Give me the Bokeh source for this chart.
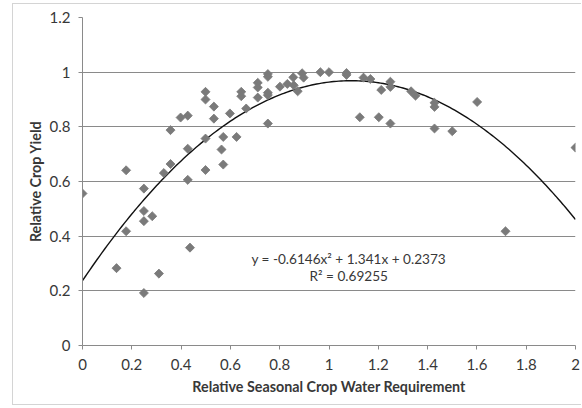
import numpy as np
from bokeh.plotting import figure
from bokeh.models import ColumnDataSource, Range1d, FixedTicker, Label
from bokeh.embed import file_html
from bokeh.resources import INLINE

# Relative seasonal crop water requirement (x) and relative crop yield (y)
water_req = [0.00, 0.138, 0.177, 0.177, 0.249, 0.249, 0.249, 0.283, 0.249, 0.310,
             0.330, 0.357, 0.357, 0.398, 0.427, 0.427, 0.427, 0.436, 0.499, 0.499,
             0.499, 0.499, 0.533, 0.533, 0.571, 0.564, 0.571, 0.598, 0.625, 0.644,
             0.644, 0.664, 0.711, 0.711, 0.711, 0.752, 0.752, 0.752, 0.752, 0.752,
             0.801, 0.831, 0.855, 0.857, 0.873, 0.891, 0.897, 0.965, 1.000, 1.071,
             1.071, 1.140, 1.168, 1.125, 1.202, 1.249, 1.212, 1.249, 1.249, 1.333,
             1.351, 1.428, 1.428, 1.428, 1.500, 1.601, 1.716, 2.000]
crop_yield = [0.556, 0.283, 0.641, 0.418, 0.574, 0.492, 0.455, 0.473, 0.192, 0.263,
              0.631, 0.664, 0.788, 0.834, 0.841, 0.720, 0.606, 0.358, 0.928, 0.900,
              0.757, 0.642, 0.874, 0.830, 0.763, 0.717, 0.662, 0.849, 0.763, 0.928,
              0.912, 0.867, 0.961, 0.944, 0.907, 0.993, 0.983, 0.925, 0.916, 0.812,
              0.947, 0.957, 0.981, 0.952, 0.930, 0.996, 0.980, 1.000, 1.000, 0.997,
              0.990, 0.980, 0.975, 0.835, 0.835, 0.812, 0.935, 0.965, 0.946, 0.930,
              0.914, 0.888, 0.873, 0.794, 0.784, 0.891, 0.418, 0.724]

# Polynomial trendline coefficients (as printed on the chart)
coef_a, coef_b, coef_c = -0.6146, 1.341, 0.2373
eq_text = "y = -0.6146x\u00b2 + 1.341x + 0.2373"
r2_text = "R\u00b2 = 0.69255"

x_ticks = [0, 0.2, 0.4, 0.6, 0.8, 1.0, 1.2, 1.4, 1.6, 1.8, 2.0]
x_tick_labels = ["0", "0.2", "0.4", "0.6", "0.8", "1", "1.2", "1.4", "1.6", "1.8", "2"]
y_ticks = [0, 0.2, 0.4, 0.6, 0.8, 1.0, 1.2]
y_tick_labels = ["0", "0.2", "0.4", "0.6", "0.8", "1", "1.2"]

FONT = "Lato"
TXT = "#383838"
GRID = "#8a8a8a"

p = figure(width=569, height=402, output_backend="svg", toolbar_location=None,
           x_range=Range1d(0, 2), y_range=Range1d(0, 1.2),
           min_border_left=69, min_border_right=7, min_border_top=13,
           min_border_bottom=61)
p.outline_line_color = None
p.background_fill_color = "white"
p.border_fill_color = "white"
p.styles = {"margin-left": "12px", "margin-top": "3px",
            "border-left": "1px solid #d4d4d4", "border-top": "1px solid #d4d4d4",
            "border-bottom": "1px solid #d4d4d4"}

p.xgrid.visible = False
p.ygrid.grid_line_color = GRID
p.ygrid.grid_line_width = 1
p.ygrid.ticker = FixedTicker(ticks=y_ticks)

p.xaxis.ticker = FixedTicker(ticks=x_ticks)
p.yaxis.ticker = FixedTicker(ticks=y_ticks)
p.xaxis.major_label_overrides = {t: l for t, l in zip(x_ticks, x_tick_labels)}
p.yaxis.major_label_overrides = {t: l for t, l in zip(y_ticks, y_tick_labels)}

for ax in (p.xaxis[0], p.yaxis[0]):
    ax.axis_line_color = GRID
    ax.major_tick_line_color = GRID
    ax.major_tick_out = 4
    ax.major_tick_in = 0
    ax.minor_tick_line_color = None
    ax.major_label_text_font = FONT
    ax.major_label_text_font_size = "15px"
    ax.major_label_text_color = TXT
    ax.axis_label_text_font = FONT
    ax.axis_label_text_font_size = "14.3px"
    ax.axis_label_text_font_style = "bold"
    ax.axis_label_text_color = TXT

p.xaxis.axis_label = "Relative Seasonal Crop Water Requirement"
p.yaxis.axis_label = "Relative Crop Yield"
p.xaxis.major_label_standoff = 9
p.yaxis.major_label_standoff = 8
p.xaxis.axis_label_standoff = 5
p.yaxis.axis_label_standoff = 3

# trendline from the printed polynomial coefficients
xs = np.linspace(0, 2, 201)
ys = coef_a * xs ** 2 + coef_b * xs + coef_c
p.line(xs, ys, line_color="#111111", line_width=1.4)

src = ColumnDataSource(dict(x=water_req, y=crop_yield))
p.scatter("x", "y", source=src, marker="square", angle=np.pi / 4, size=6.4,
          fill_color="#7a7a7a", line_color="#7a7a7a", line_width=0.8)

p.add_layout(Label(x=1.08, y=0.315, text=eq_text, text_font=FONT,
                   text_font_size="13.6px", text_color=TXT, text_align="center",
                   text_baseline="middle"))
p.add_layout(Label(x=1.08, y=0.253, text=r2_text, text_font=FONT,
                   text_font_size="13.6px", text_color=TXT, text_align="center",
                   text_baseline="middle"))

open("out.html", "w").write(file_html(p, INLINE))
